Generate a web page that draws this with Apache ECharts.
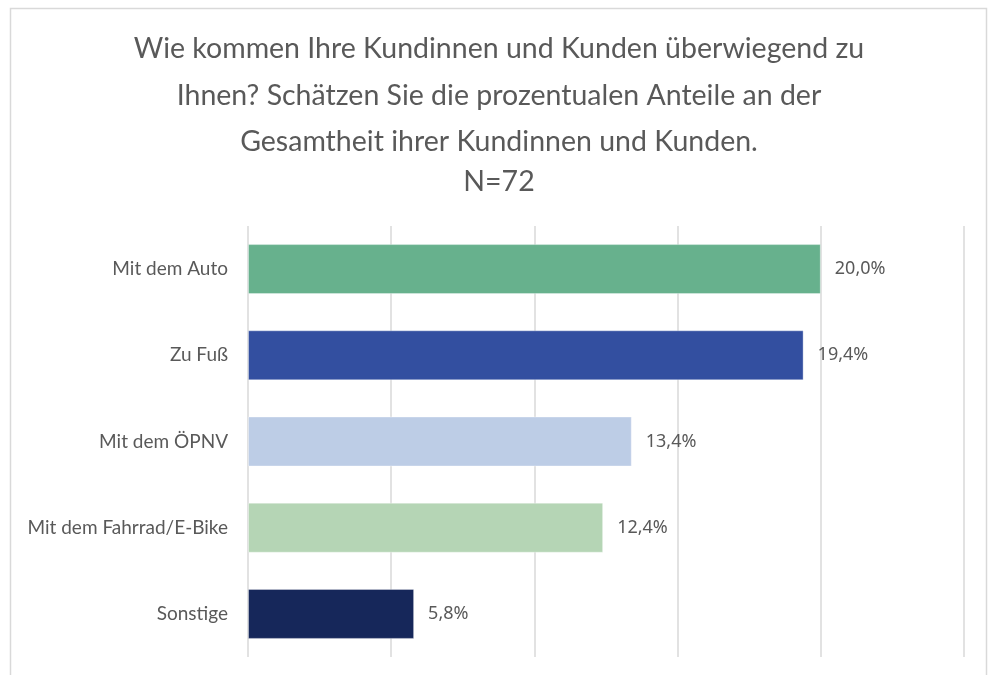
<!DOCTYPE html>
<html>
<head>
<meta charset="utf-8">
<script src="https://cdn.jsdelivr.net/npm/echarts@6/dist/echarts.min.js"></script>
<style>
  html, body { margin: 0; padding: 0; background: #fff; }
  #main { width: 988px; height: 675px; }
</style>
</head>
<body>
<div id="main"></div>
<script>
// categories from top to bottom
var categories = ['Mit dem Auto', 'Zu Fuß', 'Mit dem ÖPNV', 'Mit dem Fahrrad/E-Bike', 'Sonstige']
var values = [20.0, 19.4, 13.4, 12.4, 5.8]
var barColors = ['#67b18d', '#334fa0', '#bdcde6', '#b5d5b5', '#16275a']
var titleLines = [
    'Wie kommen Ihre Kundinnen und Kunden überwiegend zu',
    'Ihnen? Schätzen Sie die prozentualen Anteile an der',
    'Gesamtheit ihrer Kundinnen und Kunden.'
]
var subTitle = 'N=72'

var myChart = echarts.init(document.getElementById('main'))

var titleStyle = {
    fontFamily: 'Lato',
    fontWeight: 'normal',
    fontSize: 28.5,
    lineHeight: 46.5,
    color: '#595959'
}

var option = {
    backgroundColor: '#fff',
    animation: false,
    title: [{
        text: titleLines.join('\n'),
        left: 494,
        top: 21,
        textAlign: 'center',
        textStyle: titleStyle
    }, {
        text: subTitle,
        left: 494,
        top: 154,
        textAlign: 'center',
        textStyle: titleStyle
    }],
    // light frame around the chart
    graphic: [{
        type: 'rect',
        shape: { x: 10.5, y: 8.5, width: 976, height: 700 },
        style: { fill: 'none', stroke: '#d9d9d9', lineWidth: 1.5 },
        silent: true
    }],
    grid: {
        left: 248,
        right: 24,
        top: 226,
        bottom: 18,
        containLabel: false
    },
    xAxis: {
        type: 'value',
        min: 0,
        max: 25,
        interval: 5,
        axisLabel: { show: false },
        axisLine: { show: false },
        axisTick: { show: false },
        splitLine: { lineStyle: { color: '#d9d9d9', width: 1.5 } }
    },
    yAxis: {
        type: 'category',
        inverse: true,
        data: categories,
        axisLine: { show: false },
        axisTick: { show: false },
        axisLabel: {
            margin: 20,
            fontFamily: 'Lato',
            fontSize: 19,
            color: '#595959'
        }
    },
    series: [{
        type: 'bar',
        barWidth: 50,
        data: values.map(function (v, i) {
            return { value: v, itemStyle: { color: barColors[i] } }
        }),
        itemStyle: { borderColor: 'rgba(255,255,255,0.35)', borderWidth: 1 },
        label: {
            show: true,
            position: 'right',
            distance: 14,
            fontFamily: 'Noto Sans',
            fontSize: 18,
            color: '#595959',
            formatter: function (p) {
                return p.value.toFixed(1).replace('.', ',') + '%'
            }
        }
    }]
}

myChart.setOption(option)
</script>
</body>
</html>
